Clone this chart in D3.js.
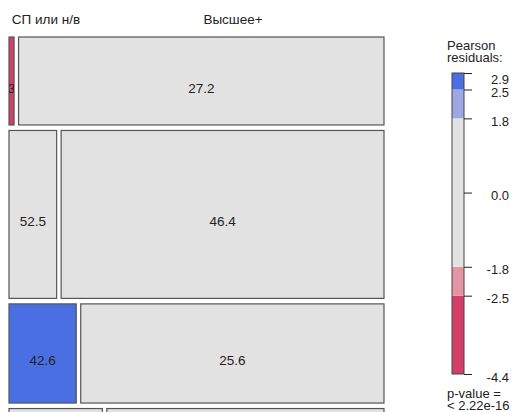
<!DOCTYPE html>
<html>
<head>
<meta charset="utf-8">
<script src="https://cdn.jsdelivr.net/npm/d3@7"></script>
<style>
  body { margin: 0; background: #fff; }
  svg text { font-family: "Liberation Sans", Arial, sans-serif; fill: #222; }
</style>
</head>
<body>
<div id="graphic"></div>
<script>
// column levels (top labels)
const colLevels = ["СП или н/в", "Высшее+"];
// counts per row, first and second column
const leftCounts = [3, 54, 45, 63];
const rightCounts = [217, 366, 203, 187];
// labels printed in the tiles
const leftLabels = ["3", "52.5", "42.6", ""];
const rightLabels = ["27.2", "46.4", "25.6", ""];
// pearson residuals per tile
const leftResid = [-4.4, -1.2, 2.9, 1.1];
const rightResid = [0.6, 0.3, -1.0, -0.3];
// legend
const legendTicks = [2.9, 2.5, 1.8, 0.0, -1.8, -2.5, -4.4];
const legendBreaks = [-4.4, -2.5, -1.8, 1.8, 2.5, 2.9];

const width = 515, height = 412;
const svg = d3.select('#graphic').append('svg')
	.attr('width', width).attr('height', height);

const palette = ["#d33f6a", "#e495a5", "#e2e2e2", "#9da8e2", "#4a6fe3"];
const shade = d3.scaleThreshold().domain([-2.5, -1.8, 1.8, 2.5]).range(palette);

const plot = { left: 9, top: 37, width: 375, rowsHeight: 455 };
const vGap = 5.5, hGap = 4.5;

const rowTotals = leftCounts.map((d, i) => d + rightCounts[i]);
const grand = d3.sum(rowTotals);
const yScale = d3.scaleLinear().domain([0, grand]).range([0, plot.rowsHeight]);

let cells = [];
let cum = 0;
rowTotals.forEach((tot, i) => {
	const y0 = plot.top + yScale(cum) + i * vGap;
	const h = yScale(tot);
	const xScale = d3.scaleLinear().domain([0, tot]).range([0, plot.width - hGap]);
	const wL = xScale(leftCounts[i]);
	cells.push({ x: plot.left, y: y0, w: wL, h: h, resid: leftResid[i], label: leftLabels[i], id: 'l' + i });
	cells.push({ x: plot.left + wL + hGap, y: y0, w: xScale(rightCounts[i]), h: h, resid: rightResid[i], label: rightLabels[i], id: 'r' + i });
	cum += tot;
});

const defs = svg.append('defs');
defs.selectAll('clipPath').data(cells).join('clipPath')
	.attr('id', d => 'clip-' + d.id)
	.append('rect')
	.attr('x', d => d.x).attr('y', d => d.y)
	.attr('width', d => d.w).attr('height', d => d.h);

const tiles = svg.append('g').selectAll('g').data(cells).join('g');

tiles.append('rect')
	.attr('x', d => d.x).attr('y', d => d.y)
	.attr('width', d => d.w).attr('height', d => d.h)
	.attr('fill', d => shade(d.resid))
	.attr('stroke', '#555')
	.attr('stroke-width', 1.2);

tiles.append('text')
	.attr('clip-path', d => 'url(#clip-' + d.id + ')')
	.attr('x', d => d.x + d.w / 2)
	.attr('y', d => d.y + d.h / 2 + 7.5)
	.attr('text-anchor', 'middle')
	.attr('dominant-baseline', 'central')
	.style('font-size', '13.5px')
	.text(d => d.label);

// top labels for the column variable
const topX = [46, 233];
svg.append('g').selectAll('text').data(colLevels).join('text')
	.attr('x', (d, i) => topX[i])
	.attr('y', 24)
	.attr('text-anchor', 'middle')
	.style('font-size', '13.5px')
	.text(d => d);

// legend
const lg = { x: 452, w: 12 };
const ly = d3.scaleLinear().domain([-4.4, 2.9]).range([374, 73]);

const legend = svg.append('g');
legend.selectAll('rect.seg')
	.data(d3.pairs(legendBreaks))
	.join('rect')
	.attr('class', 'seg')
	.attr('x', lg.x)
	.attr('y', d => ly(d[1]))
	.attr('width', lg.w)
	.attr('height', d => ly(d[0]) - ly(d[1]))
	.attr('fill', (d, i) => palette[i]);

legend.append('rect')
	.attr('x', lg.x).attr('y', ly(2.9))
	.attr('width', lg.w).attr('height', ly(-4.4) - ly(2.9))
	.attr('fill', 'none').attr('stroke', '#444').attr('stroke-width', 1);

const legendAxis = d3.axisRight(ly)
	.tickValues(legendTicks)
	.tickSize(8)
	.tickFormat(d => d.toFixed(1));

const ax = legend.append('g')
	.attr('transform', `translate(${lg.x + lg.w},0)`)
	.call(legendAxis);
ax.select('.domain').remove();
ax.selectAll('line').attr('stroke', '#222');
ax.selectAll('text')
	.attr('x', 45)
	.attr('dy', d => d === 2.9 ? '0.78em' : '0.55em')
	.attr('text-anchor', 'end')
	.style('font-family', '"Liberation Sans", Arial, sans-serif')
	.style('font-size', '13px')
	.attr('fill', '#222');

legend.append('text').attr('x', 447).attr('y', 49.5).style('font-size', '13px').text('Pearson');
legend.append('text').attr('x', 447).attr('y', 62).style('font-size', '13px').text('residuals:');
legend.append('text').attr('x', 447).attr('y', 397.5).style('font-size', '13px').text('p-value =');
legend.append('text').attr('x', 447).attr('y', 410).style('font-size', '13px').text('< 2.22e-16');
</script>
</body>
</html>
